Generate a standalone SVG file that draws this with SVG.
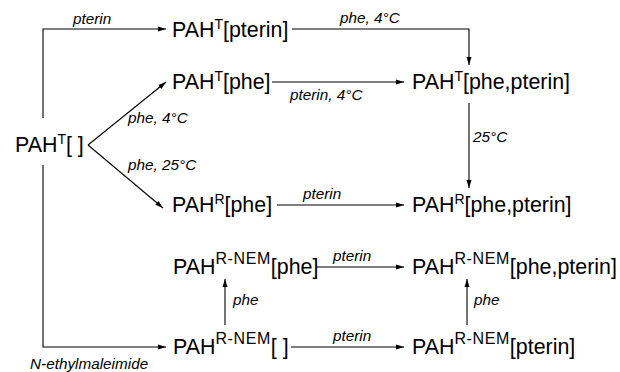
<svg xmlns="http://www.w3.org/2000/svg" width="620" height="372" viewBox="0 0 620 372">
<defs>
<style>
.n{font-family:"Liberation Sans",Arial,Helvetica,sans-serif;font-size:21.4px;fill:#000}
.sT{font-size:14px}
.sN{font-size:16px;letter-spacing:0.6px}
.l{font-family:"Liberation Sans",Arial,Helvetica,sans-serif;font-size:15.3px;font-style:italic;fill:#000}
.c{fill:none;stroke:#000;stroke-width:1.1}
</style>
<marker id="ah" markerUnits="userSpaceOnUse" markerWidth="10" markerHeight="8" refX="8" refY="3" orient="auto">
<path d="M0,0.5 L8,3 L0,5.5 Z" fill="#000"/>
</marker>
</defs>
<rect width="620" height="372" fill="#fff"/>
<g id="connectors">
<polyline class="c" points="43,118 43,29 166,29" marker-end="url(#ah)"/>
<polyline class="c" points="43,165 43,347 166,347" marker-end="url(#ah)"/>
<polyline class="c" points="292,29 469,29 469,65" marker-end="url(#ah)"/>
<line class="c" x1="272" y1="82" x2="404" y2="82" marker-end="url(#ah)"/>
<line class="c" x1="469" y1="103" x2="469" y2="188" marker-end="url(#ah)"/>
<line class="c" x1="88" y1="145" x2="166" y2="82" marker-end="url(#ah)"/>
<line class="c" x1="88" y1="145" x2="163" y2="208" marker-end="url(#ah)"/>
<line class="c" x1="277" y1="205" x2="404" y2="205" marker-end="url(#ah)"/>
<line class="c" x1="316" y1="267" x2="404" y2="267" marker-end="url(#ah)"/>
<line class="c" x1="291" y1="347" x2="404" y2="347" marker-end="url(#ah)"/>
<line class="c" x1="225" y1="325" x2="225" y2="279" marker-end="url(#ah)"/>
<line class="c" x1="467" y1="325" x2="467" y2="279" marker-end="url(#ah)"/>
<text class="l" x="73" y="24">pterin</text>
<text class="l" x="30" y="369">N-ethylmaleimide</text>
<text class="l" x="340" y="23">phe, 4°C</text>
<text class="l" x="290" y="100">pterin, 4°C</text>
<text class="l" x="473" y="142">25°C</text>
<text class="l" x="128" y="123">phe, 4°C</text>
<text class="l" x="128" y="170">phe, 25°C</text>
<text class="l" x="303" y="199">pterin</text>
<text class="l" x="333" y="261">pterin</text>
<text class="l" x="333" y="341">pterin</text>
<text class="l" x="233" y="305">phe</text>
<text class="l" x="474" y="305">phe</text>
</g>
<g id="pahT_pterin"><text class="n" x="172" y="37">PAH<tspan class="sT" dy="-8">T</tspan><tspan dy="8">[pterin]</tspan></text></g>
<g id="pahT_phe"><text class="n" x="172" y="89">PAH<tspan class="sT" dy="-8">T</tspan><tspan dy="8">[phe]</tspan></text></g>
<g id="pahT_phe_pterin"><text class="n" x="412" y="89">PAH<tspan class="sT" dy="-8">T</tspan><tspan dy="8">[phe,pterin]</tspan></text></g>
<g id="pahT_empty"><text class="n" x="15" y="152">PAH<tspan class="sT" dy="-8">T</tspan><tspan dy="8">[ ]</tspan></text></g>
<g id="pahR_phe"><text class="n" x="172" y="212">PAH<tspan class="sT" dy="-8">R</tspan><tspan dy="8">[phe]</tspan></text></g>
<g id="pahR_phe_pterin"><text class="n" x="412" y="212">PAH<tspan class="sT" dy="-8">R</tspan><tspan dy="8">[phe,pterin]</tspan></text></g>
<g id="pahRNEM_phe"><text class="n" x="173" y="274">PAH<tspan class="sN" dy="-10">R-NEM</tspan><tspan dy="10">[phe]</tspan></text></g>
<g id="pahRNEM_phe_pterin"><text class="n" x="412" y="274">PAH<tspan class="sN" dy="-10">R-NEM</tspan><tspan dy="10">[phe,pterin]</tspan></text></g>
<g id="pahRNEM_empty"><text class="n" x="173" y="354">PAH<tspan class="sN" dy="-10">R-NEM</tspan><tspan dy="10">[ ]</tspan></text></g>
<g id="pahRNEM_pterin"><text class="n" x="412" y="354">PAH<tspan class="sN" dy="-10">R-NEM</tspan><tspan dy="10">[pterin]</tspan></text></g>
</svg>
